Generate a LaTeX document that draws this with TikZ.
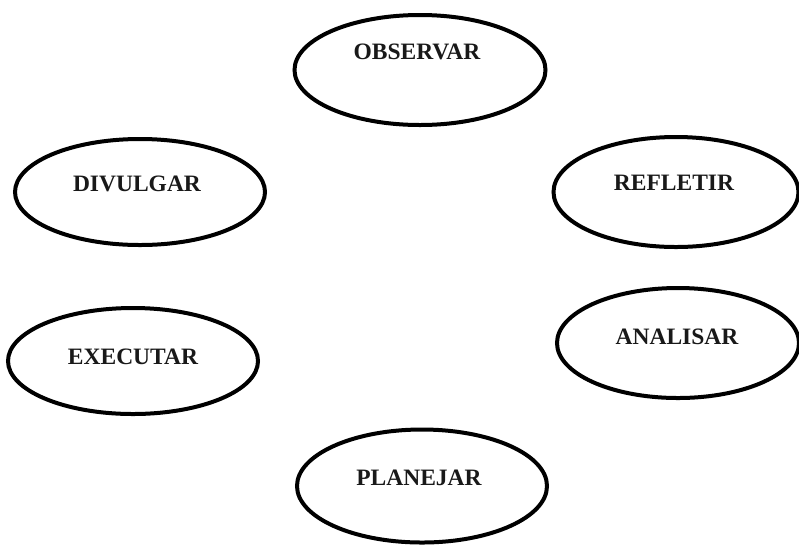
\documentclass[tikz,border=0pt]{standalone}
\usepackage{fontspec}
\setmainfont{Liberation Serif}
\usetikzlibrary{shapes.geometric}
\tikzset{
  oval/.style={ellipse, draw=black, line width=4pt, inner sep=0pt, fill=white},
  lbl/.style={font=\fontsize{23.5}{27}\selectfont\bfseries, inner sep=0pt, text=black!90}
}
\begin{document}
\begin{tikzpicture}[x=1pt,y=1pt]
\useasboundingbox[fill=white] (0,0) rectangle (799,-547);
\node[oval, minimum width=251pt, minimum height=110pt] (obs) at (420,-70) {};
\node[lbl] (obst) at (417,-52) {OBSERVAR};
\node[oval, minimum width=250pt, minimum height=106pt] (div) at (140,-192) {};
\node[lbl] (divt) at (137,-184) {DIVULGAR};
\node[oval, minimum width=245pt, minimum height=110pt] (ref) at (676,-192) {};
\node[lbl] (reft) at (674,-183) {REFLETIR};
\node[oval, minimum width=250pt, minimum height=106pt] (exe) at (133,-361) {};
\node[lbl] (exet) at (133,-357) {EXECUTAR};
\node[oval, minimum width=242pt, minimum height=110pt] (ana) at (678,-343) {};
\node[lbl] (anat) at (677,-337) {ANALISAR};
\node[oval, minimum width=250pt, minimum height=113pt] (pla) at (422,-486) {};
\node[lbl] (plat) at (419,-478) {PLANEJAR};
\end{tikzpicture}
\end{document}
